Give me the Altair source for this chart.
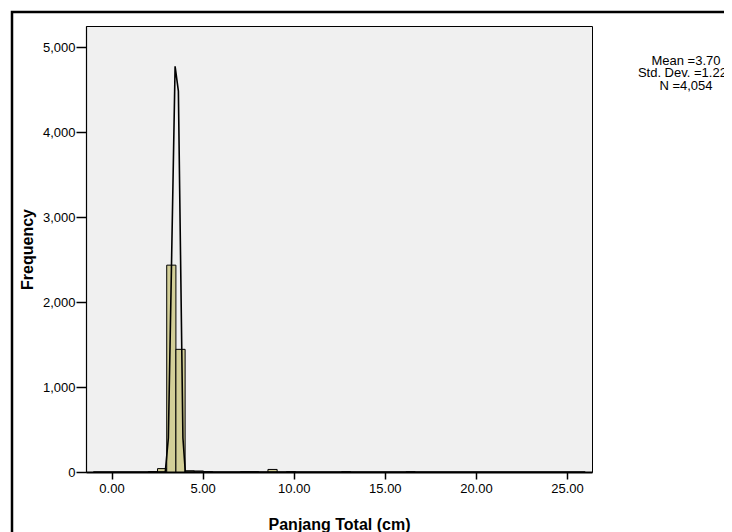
import altair as alt
import pandas as pd

# Histogram bins (left edges, cm) and counts
bin_start = [2.02, 2.525, 3.03, 3.535, 4.04, 4.545, 5.05, 7.07, 7.575, 8.585, 9.595, 12.625, 16.16]
bin_count = [5, 40, 2435, 1444, 15, 12, 2, 2, 2, 30, 2, 1, 1]
bin_width = 0.505

# Normal curve points as drawn
curve_x = [-1.0, 2.95, 3.12, 3.49, 3.67, 3.92, 4.05, 26.0]
curve_y = [0, 0, 400, 4776, 4484, 400, 0, 0]

# Stats box text
stats_lines = ["Mean =3.70", "Std. Dev. =1.227", "N =4,054"]

x_ticks = [0, 5, 10, 15, 20, 25]
y_ticks = [0, 1000, 2000, 3000, 4000, 5000]

FONT = "Liberation Sans"

bars_df = pd.DataFrame({"start": bin_start, "count": bin_count})
bars_df["end"] = bars_df["start"] + bin_width
curve_df = pd.DataFrame({"x": curve_x, "y": curve_y})

xscale = alt.Scale(domain=[-1.40, 26.37], nice=False, zero=False)
yscale = alt.Scale(domain=[0, 5250], nice=False)

xaxis = alt.Axis(
    values=x_ticks, format=".2f", title="Panjang Total (cm)", grid=False,
    domainColor="black", domainWidth=2, tickColor="black", tickSize=7, tickWidth=1.5,
    labelFont=FONT, labelFontSize=13, labelColor="black", labelPadding=3,
    titleFont=FONT, titleFontSize=16, titleFontWeight="bold", titleColor="black",
    titleY=57, titleBaseline="alphabetic",
)
yaxis = alt.Axis(
    values=y_ticks, format=",.0f", title="Frequency", grid=False,
    domainColor="black", domainWidth=1.2, tickColor="black", tickSize=10, tickWidth=1.5,
    labelFont=FONT, labelFontSize=13, labelColor="black", labelPadding=1,
    titleFont=FONT, titleFontSize=16, titleFontWeight="bold", titleColor="black",
    titleX=-54, titleBaseline="alphabetic",
)

bars = alt.Chart(bars_df).mark_rect(
    fill="#D3CF98", stroke="black", strokeWidth=1
).encode(
    x=alt.X("start:Q", scale=xscale, axis=xaxis),
    x2="end:Q",
    y=alt.Y("count:Q", scale=yscale, axis=yaxis),
    y2=alt.datum(0),
)

curve = alt.Chart(curve_df).mark_line(color="black", strokeWidth=1.6).encode(
    x=alt.X("x:Q", scale=xscale),
    y=alt.Y("y:Q", scale=yscale),
)

stats = alt.Chart(alt.Data(values=[{"t": 1}])).mark_text(
    text=stats_lines, align="center", baseline="middle", font=FONT,
    fontSize=13, lineHeight=12.7, color="black",
).encode(x=alt.value(600), y=alt.value(34.7))

frame = alt.Chart(alt.Data(values=[{"t": 1}])).mark_rect(
    fill=None, stroke="black", strokeWidth=2.5
).encode(x=alt.value(-74), x2=alt.value(760), y=alt.value(-14), y2=alt.value(640))

chart = alt.layer(bars, curve, stats, frame).properties(
    width=506, height=446,
    autosize=alt.AutoSizeParams(type="none"),
    padding={"left": 78, "top": 18, "right": 132, "bottom": 60},
    background="white",
).configure_view(
    fill="#F0F0F0", stroke="black", strokeWidth=1
)

chart.save("out.html", embed_options={"renderer": "svg", "actions": False})
